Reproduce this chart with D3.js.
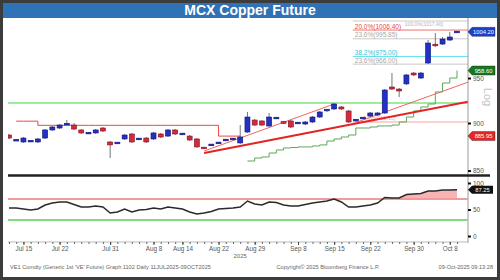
<!DOCTYPE html>
<html>
<head>
<meta charset="utf-8">
<script src="https://cdn.jsdelivr.net/npm/d3@7"></script>
<style>
  html, body { margin: 0; padding: 0; background: #fff; }
  svg { display: block; font-family: "Liberation Sans", Arial, sans-serif; }
</style>
</head>
<body>
<script>
// trading days, 11 Jul 2025 - 09 Oct 2025
const dates = [
  "2025-07-11", "2025-07-14", "2025-07-15", "2025-07-16", "2025-07-17", "2025-07-18",
  "2025-07-21", "2025-07-22", "2025-07-23", "2025-07-24", "2025-07-25",
  "2025-07-28", "2025-07-29", "2025-07-30", "2025-07-31", "2025-08-01",
  "2025-08-04", "2025-08-05", "2025-08-06", "2025-08-07", "2025-08-08",
  "2025-08-11", "2025-08-12", "2025-08-13", "2025-08-14",
  "2025-08-18", "2025-08-19", "2025-08-20", "2025-08-21", "2025-08-22",
  "2025-08-25", "2025-08-26", "2025-08-27", "2025-08-28", "2025-08-29",
  "2025-09-01", "2025-09-02", "2025-09-03", "2025-09-04", "2025-09-05",
  "2025-09-08", "2025-09-09", "2025-09-10", "2025-09-11", "2025-09-12",
  "2025-09-15", "2025-09-16", "2025-09-17", "2025-09-18", "2025-09-19",
  "2025-09-22", "2025-09-23", "2025-09-24", "2025-09-25", "2025-09-26",
  "2025-09-29", "2025-09-30", "2025-10-01", "2025-10-03",
  "2025-10-06", "2025-10-07", "2025-10-08", "2025-10-09"
];

const opens = [
  887.1, 881.3, 879.7, 880.4, 879.7, 883.9, 892.5, 894.6, 898.5, 897.8,
  892.5, 888.9, 889.3, 894.6, 879.7, 878.4, 882.9, 888.2, 882.7, 883.9,
  882.9, 888.2, 886.0, 892.5, 888.0, 886.0, 882.9, 873.6, 876.4, 878.5,
  881.6, 882.7, 878.7, 890.3, 903.2, 902.2, 896.8, 905.2, 901.1, 902.2,
  899.8, 898.9, 901.1, 906.5, 913.9, 915.3, 917.5, 913.1, 903.0, 905.2,
  907.6, 908.7, 910.9, 939.8, 937.5, 943.3, 955.7, 950.0, 967.3, 989.0,
  989.6, 994.4, 1003.9
];
const highs = [
  888.2, 882.9, 885.0, 881.8, 883.9, 893.5, 896.8, 898.9, 903.2, 900.0,
  893.5, 890.3, 893.5, 895.7, 880.8, 879.7, 888.2, 889.3, 883.9, 885.0,
  890.3, 889.3, 893.5, 893.5, 889.3, 887.1, 883.9, 874.5, 877.6, 879.7,
  882.9, 883.9, 897.8, 912.0, 904.3, 903.2, 910.9, 906.5, 902.2, 903.2,
  901.1, 902.2, 907.6, 913.1, 915.3, 921.9, 918.6, 914.2, 904.3, 906.5,
  912.0, 912.0, 937.5, 955.7, 938.7, 954.6, 956.9, 956.9, 994.4, 1002.8,
  998.0, 1004.0, 1005.0
];
const lows = [
  882.9, 880.8, 878.7, 879.7, 878.7, 882.9, 891.4, 893.5, 897.8, 892.5,
  888.2, 888.2, 888.2, 890.3, 863.0, 877.6, 881.8, 878.7, 881.8, 878.7,
  881.8, 883.9, 885.0, 887.1, 887.1, 880.8, 873.4, 872.4, 875.5, 877.6,
  880.8, 881.8, 877.6, 889.3, 896.8, 896.8, 895.7, 904.3, 898.9, 894.6,
  898.9, 897.8, 900.0, 905.4, 912.0, 914.2, 914.2, 900.0, 901.1, 904.3,
  906.5, 907.6, 909.8, 936.4, 928.6, 942.1, 952.3, 948.9, 966.1, 986.1,
  988.5, 993.2, 1002.8
];
const closes = [
  883.9, 881.8, 883.9, 880.8, 882.9, 892.5, 895.7, 897.8, 899.0, 893.5,
  889.3, 889.4, 892.5, 891.4, 876.6, 878.9, 887.1, 879.7, 883.1, 879.7,
  889.3, 885.0, 892.5, 888.2, 888.4, 881.8, 874.5, 873.2, 876.8, 878.9,
  882.0, 883.1, 885.0, 906.5, 897.8, 897.8, 906.5, 905.6, 900.0, 895.7,
  900.2, 901.1, 906.5, 912.0, 914.4, 920.8, 915.3, 901.1, 903.4, 905.6,
  910.9, 910.9, 936.4, 937.5, 935.3, 953.5, 953.5, 955.7, 990.8, 987.9,
  995.6, 998.0, 1004.2
];

// RSI (lower panel)
const rsi = [
  52.8, 52.8, 50.9, 49.0, 51.0, 58.5, 62.3, 64.2, 64.2, 59.4,
  54.7, 54.7, 56.6, 54.7, 43.4, 45.3, 50.9, 45.3, 49.0, 50.0,
  52.8, 50.9, 54.7, 52.8, 50.9, 45.3, 41.5, 43.4, 46.2, 50.9,
  51.9, 52.8, 54.7, 66.0, 60.4, 58.5, 64.2, 63.2, 58.5, 56.6,
  56.6, 59.4, 62.3, 64.2, 66.0, 69.8, 64.2, 54.7, 54.7, 56.6,
  58.5, 62.3, 72.6, 71.7, 71.7, 78.3, 79.2, 80.2, 84.9, 84.9,
  86.6, 87.0, 87.25
];
const rsiHigh = 70, rsiLow = 30;

// red trailing stop, Jul 14 - Aug 27
const redStopStart = 1;
const redStop = [
  902.0, 902.0, 902.0,
  897.5, 897.5, 897.5, 897.5, 897.5, 897.5, 897.5, 897.5, 897.5, 897.5,
  897.5, 897.5, 897.5, 897.5, 897.5, 897.5, 897.5, 897.5, 897.5, 897.5,
  897.5, 897.5, 897.5, 897.5, 897.5,
  885.95, 885.95, 885.95, 885.95
];
// green trailing stop, Aug 28 - Oct 9
const greenStopStart = 33;
const greenStop = [
  859.8, 862.9, 864.0, 868.1, 871.3, 873.4, 873.9, 874.5, 874.5, 875.5,
  876.6, 880.7, 882.9, 885.0, 887.1, 894.6, 894.6, 895.7, 896.8, 896.8,
  897.8, 901.1, 906.5, 913.1, 917.5, 920.8, 934.2, 944.3, 950.0, 958.6
];

// trend lines: [date, price] anchors
const trendThick = [["2025-08-20", 868.1], ["2025-10-09", 920.9]];
const trendThinA = [["2025-08-20", 870.2], ["2025-09-15", 920.8]];
const trendThinB = [["2025-09-18", 900.5], ["2025-10-09", 940.8]];

const supportLevel = 921.9;
const levelValues = [1017.4, 1006.4, 995.85, 975.0, 966.0, 901.1];
const levelLabels = ["100.0%(1017.40)", "20.0%(1006.40)", "23.6%(995.85)", "38.2%(975.00)", "23.6%(966.00)", "0.0%(901.10)"];

const priceTicks = [850, 900, 950];
const rsiTicks = [0, 50, 100];
const labelDates = ["2025-07-15", "2025-07-22", "2025-07-31", "2025-08-08", "2025-08-14", "2025-08-22",
  "2025-08-29", "2025-09-08", "2025-09-15", "2025-09-22", "2025-09-30", "2025-10-08"];

document.addEventListener("DOMContentLoaded", function () {
    const width = 500, height = 280;
    const plotL = 8, plotR = 468;

    const svg = d3.select("body").append("svg")
        .attr("width", width)
        .attr("height", height);

    // frame + title
    svg.append("rect")
        .attr("x", 1.5).attr("y", 1.5)
        .attr("width", width - 3).attr("height", height - 3)
        .attr("fill", "#fff").attr("stroke", "#3c3c3c").attr("stroke-width", 3);
    svg.append("rect")
        .attr("x", 3).attr("y", 3).attr("width", width - 6).attr("height", 15)
        .attr("fill", "#2f72b6");
    svg.append("text")
        .attr("x", width / 2).attr("y", 15)
        .attr("text-anchor", "middle")
        .attr("fill", "#fff")
        .attr("font-size", 14).attr("font-weight", "bold")
        .text("MCX Copper Future");

    const x = d3.scalePoint().domain(dates).range([9, 457]);
    const y = d3.scaleLog().domain([850, 1020]).range([170.56, 18.87]);
    const ry = d3.scaleLinear().domain([0, 100]).range([236, 183]);

    svg.append("clipPath").attr("id", "pclip")
        .append("rect").attr("x", plotL).attr("y", 18).attr("width", plotR - plotL).attr("height", 156);

    const g = svg.append("g").attr("clip-path", "url(#pclip)");

    // horizontal support line
    g.append("line")
        .attr("x1", plotL).attr("x2", plotR)
        .attr("y1", y(supportLevel)).attr("y2", y(supportLevel))
        .attr("stroke", "#3ddc3d").attr("stroke-width", 1.2);

    // retracement levels
    const levelStroke = ["#c8c8c8", "#f07070", "#c8c8c8", "#5fdfea", "#c8c8c8", "#f4a4a4"];
    const levelText = ["#b4b4b4", "#e84848", "#a8a8a8", "#2cc6d8", "#a8a8a8", "#f2b0b0"];
    const levelX = x(dates[48]) - 3;
    levelValues.forEach((v, i) => {
        g.append("line")
            .attr("x1", levelX).attr("x2", plotR)
            .attr("y1", y(v)).attr("y2", y(v))
            .attr("stroke", levelStroke[i]).attr("stroke-width", 1);
        g.append("text")
            .attr("x", levelX + 2 + (i === 5 ? 8 : 0) + (i === 0 ? 50 : 0))
            .attr("y", i === 0 ? y(v) + 5 : y(v) - 1.5)
            .attr("font-size", i === 5 ? 5.5 : (i === 0 ? 5 : 6.5))
            .attr("fill", levelText[i])
            .text(levelLabels[i]);
    });

    // green trailing stop
    const gsData = greenStop.map((v, i) => ({ d: dates[greenStopStart + i], v: v }));
    g.append("path").datum(gsData)
        .attr("d", d3.line().x(d => x(d.d)).y(d => y(d.v)).curve(d3.curveStepAfter))
        .attr("fill", "none").attr("stroke", "#5aa85a").attr("stroke-width", 1);

    // red trailing stop
    const rsData = redStop.map((v, i) => ({ d: dates[redStopStart + i], v: v }));
    g.append("path").datum(rsData)
        .attr("d", d3.line().x(d => x(d.d)).y(d => y(d.v)).curve(d3.curveStepAfter))
        .attr("fill", "none").attr("stroke", "#ec4646").attr("stroke-width", 1);

    // trend lines, extended to the right edge
    function trend(pts, extend, color, w) {
        const x1 = x(pts[0][0]), y1 = y(pts[0][1]);
        const x2 = x(pts[1][0]), y2 = y(pts[1][1]);
        const xe = extend ? plotR : x2;
        const ye = y1 + (y2 - y1) * (xe - x1) / (x2 - x1);
        g.append("line")
            .attr("x1", x1).attr("y1", y1).attr("x2", xe).attr("y2", ye)
            .attr("stroke", color).attr("stroke-width", w);
    }
    trend(trendThinA, false, "#f06464", 1);
    trend(trendThinB, true, "#f06464", 1);
    trend(trendThick, true, "#e22424", 2);

    // candles
    const candles = dates.map((d, i) => ({ d: d, o: opens[i], h: highs[i], l: lows[i], c: closes[i] }));
    const cw = 5;
    const cg = g.selectAll("g.candle").data(candles).enter().append("g").attr("class", "candle");
    cg.append("line")
        .attr("x1", d => x(d.d)).attr("x2", d => x(d.d))
        .attr("y1", d => y(d.h)).attr("y2", d => y(d.l))
        .attr("stroke", "#666").attr("stroke-width", 0.9);
    cg.append("rect")
        .attr("x", d => x(d.d) - cw / 2)
        .attr("width", cw)
        .attr("y", d => {
            const top = y(Math.max(d.o, d.c)), bot = y(Math.min(d.o, d.c));
            return bot - top < 1.6 ? (top + bot) / 2 - 0.8 : top;
        })
        .attr("height", d => Math.max(1.6, y(Math.min(d.o, d.c)) - y(Math.max(d.o, d.c))))
        .attr("fill", d => d.c >= d.o ? "#2431c4" : "#d42a3c")
        .attr("stroke", d => d.c >= d.o ? "#0c1478" : "#7c1420")
        .attr("stroke-width", 0.6);

    // right price axis
    svg.append("line")
        .attr("x1", plotR).attr("x2", plotR).attr("y1", 18).attr("y2", 243)
        .attr("stroke", "#9a9a9a").attr("stroke-width", 1);

    const pAxis = svg.append("g")
        .attr("transform", `translate(${plotR},0)`)
        .call(d3.axisRight(y).tickValues(priceTicks).tickSize(3).tickFormat(d3.format("d")));
    pAxis.select(".domain").remove();
    pAxis.selectAll("line").attr("stroke", "#111").attr("stroke-width", 2);
    pAxis.selectAll("text").attr("font-size", 6.5).attr("fill", "#555").attr("x", 5)
        .style("font-family", "Liberation Sans, Arial, sans-serif");

    svg.append("text")
        .attr("transform", "translate(484,97) rotate(90)")
        .attr("text-anchor", "middle")
        .attr("font-size", 11)
        .attr("fill", "#c4c4c4")
        .text("Log");

    function tag(yc, txt, fill) {
        svg.append("path")
            .attr("d", `M${plotR},${yc} L${plotR + 4},${yc - 4.5} L${plotR + 27},${yc - 4.5} L${plotR + 27},${yc + 4.5} L${plotR + 4},${yc + 4.5} Z`)
            .attr("fill", fill).attr("stroke", "#222").attr("stroke-width", 0.4);
        svg.append("text")
            .attr("x", plotR + 15.5).attr("y", yc + 2)
            .attr("text-anchor", "middle")
            .attr("font-size", 5.8).attr("fill", "#fff")
            .text(txt);
    }
    const lastClose = closes[closes.length - 1];
    const lastGreen = greenStop[greenStop.length - 1];
    const lastRed = redStop[redStop.length - 1];
    tag(y(lastClose), lastClose.toFixed(2), "#1d3fd0");
    tag(y(lastGreen), lastGreen.toFixed(2), "#17781f");
    tag(y(lastRed), lastRed.toFixed(2), "#e42626");

    // panel separator
    svg.append("line")
        .attr("x1", plotL).attr("x2", 490).attr("y1", 175.5).attr("y2", 175.5)
        .attr("stroke", "#222").attr("stroke-width", 2.5);

    // RSI panel
    const rg = svg.append("g");
    const rsiData = rsi.map((v, i) => ({ d: dates[i], v: v }));
    rg.append("path").datum(rsiData)
        .attr("d", d3.area().x(d => x(d.d)).y0(ry(rsiHigh)).y1(d => ry(Math.max(d.v, rsiHigh))))
        .attr("fill", "#f8b4b4");
    rg.append("line")
        .attr("x1", plotL).attr("x2", plotR).attr("y1", ry(rsiHigh)).attr("y2", ry(rsiHigh))
        .attr("stroke", "#f49a9a").attr("stroke-width", 2);
    rg.append("line")
        .attr("x1", plotL).attr("x2", plotR).attr("y1", ry(rsiLow)).attr("y2", ry(rsiLow))
        .attr("stroke", "#7edc7e").attr("stroke-width", 2);
    rg.append("path").datum(rsiData)
        .attr("d", d3.line().x(d => x(d.d)).y(d => ry(d.v)))
        .attr("fill", "none").attr("stroke", "#2a2a2a").attr("stroke-width", 1.5);

    const rAxis = svg.append("g")
        .attr("transform", `translate(${plotR},0)`)
        .call(d3.axisRight(ry).tickValues(rsiTicks).tickSize(3));
    rAxis.select(".domain").remove();
    rAxis.selectAll("line").attr("stroke", "#111").attr("stroke-width", 2);
    rAxis.selectAll("text").attr("font-size", 6.5).attr("fill", "#555").attr("x", 5)
        .style("font-family", "Liberation Sans, Arial, sans-serif");

    const lastRsi = rsi[rsi.length - 1];
    const ryc = ry(lastRsi);
    svg.append("path")
        .attr("d", `M${plotR},${ryc} L${plotR + 4},${ryc - 4} L${plotR + 25},${ryc - 4} L${plotR + 25},${ryc + 4} L${plotR + 4},${ryc + 4} Z`)
        .attr("fill", "#111");
    svg.append("text")
        .attr("x", plotR + 14.5).attr("y", ryc + 2)
        .attr("text-anchor", "middle").attr("font-size", 5.8).attr("fill", "#fff")
        .text(lastRsi.toFixed(2));

    // date axis
    const minor = svg.append("g")
        .attr("transform", "translate(0,242)")
        .call(d3.axisBottom(x).tickValues(dates).tickSize(2).tickFormat(""));
    minor.select(".domain").attr("stroke", "#bbb").attr("d", `M${plotL},0H${plotR}`);
    minor.selectAll(".tick line").attr("stroke", "#666");

    const parse = d3.timeParse("%Y-%m-%d");
    const fmt = d3.timeFormat("%b %-d");
    const major = svg.append("g")
        .attr("transform", "translate(0,242)")
        .call(d3.axisBottom(x).tickValues(labelDates).tickSize(3).tickFormat(d => fmt(parse(d))));
    major.select(".domain").remove();
    major.selectAll("line").attr("stroke", "#444");
    major.selectAll("text").attr("font-size", 6.3).attr("fill", "#555").attr("y", 5)
        .style("font-family", "Liberation Sans, Arial, sans-serif");

    svg.append("text")
        .attr("x", x(dates[32])).attr("y", 258)
        .attr("text-anchor", "middle").attr("font-size", 6).attr("fill", "#666")
        .text("2025");

    // footer
    const foot = svg.append("g").attr("font-size", 5.6).attr("fill", "#666");
    foot.append("text").attr("x", 10).attr("y", 268.5)
        .text("VE1 Comdty (Generic 1st 'VE' Future) Graph 1102 Daily 11JUL2025-09OCT2025");
    foot.append("text").attr("x", 328).attr("y", 268.5).attr("text-anchor", "middle")
        .text("Copyright\u00A9 2025 Bloomberg Finance L.P.");
    foot.append("text").attr("x", 493).attr("y", 268.5).attr("text-anchor", "end")
        .text("09-Oct-2025 09:13:28");
});
</script>
</body>
</html>
